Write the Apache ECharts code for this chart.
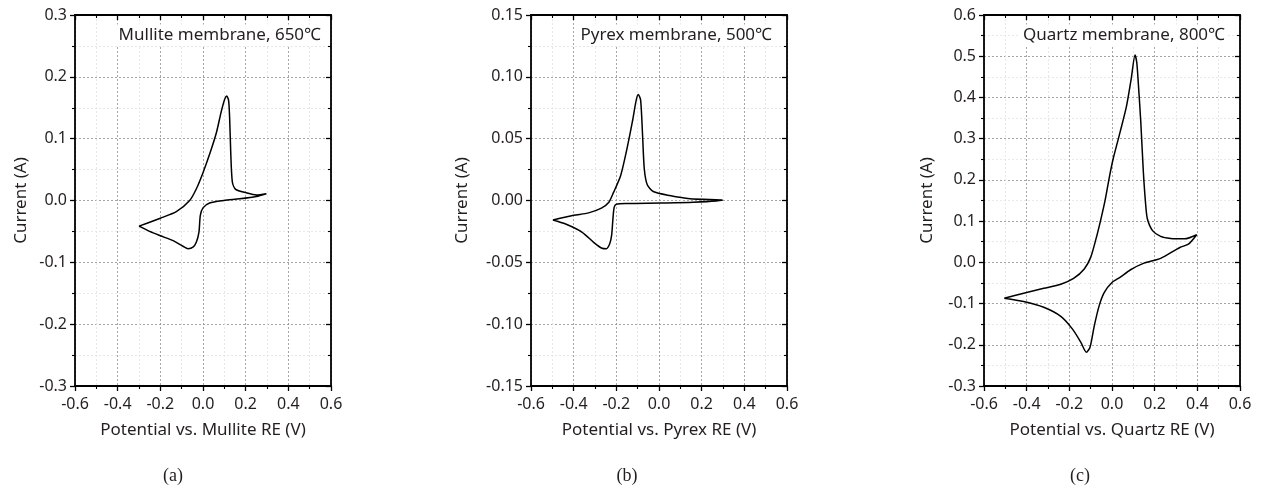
<!DOCTYPE html>
<html>
<head>
<meta charset="utf-8">
<script src="https://cdn.jsdelivr.net/npm/echarts@6/dist/echarts.min.js"></script>
<style>
  html, body { margin: 0; padding: 0; background: #fff; }
  #chart { width: 1264px; height: 488px; }
</style>
</head>
<body>
<div id="chart"></div>
<script>
// (a) Mullite membrane, 650 C — forward scan then reverse scan
const mulliteV = [-0.3, -0.2, -0.125, -0.0625, -0.031, 0.0, 0.034, 0.063, 0.085, 0.102, 0.111, 0.12, 0.125, 0.13, 0.1375, 0.153, 0.203, 0.25, 0.297,
  0.25, 0.172, 0.098, 0.031, 0.0, -0.0125, -0.019, -0.031, -0.047, -0.07, -0.094, -0.14, -0.2, -0.25, -0.3];
const mulliteI = [-0.0415, -0.0286, -0.018, 0.0, 0.019, 0.045, 0.078, 0.11, 0.143, 0.164, 0.169, 0.162, 0.132, 0.078, 0.03, 0.018, 0.0124, 0.009, 0.011,
  0.0065, 0.0027, 0.0, -0.004, -0.012, -0.024, -0.051, -0.067, -0.0755, -0.078, -0.074, -0.065, -0.057, -0.05, -0.0415];

// (b) Pyrex membrane, 500 C
const pyrexV = [-0.497, -0.4, -0.33, -0.27, -0.235, -0.2125, -0.18, -0.15, -0.125, -0.107, -0.097, -0.086, -0.077, -0.069, -0.055, -0.027, 0.05, 0.145, 0.3,
  0.16, 0.008, -0.15, -0.2, -0.21, -0.216, -0.222, -0.231, -0.247, -0.267, -0.305, -0.36, -0.4375, -0.497];
const pyrexI = [-0.0157, -0.012, -0.01, -0.0062, -0.0014, 0.0068, 0.02, 0.042, 0.0635, 0.081, 0.0857, 0.081, 0.0527, 0.0257, 0.0127, 0.0073, 0.004, 0.0014, 0.0003,
  -0.0014, -0.002, -0.0024, -0.003, -0.0054, -0.0149, -0.028, -0.035, -0.039, -0.0386, -0.034, -0.0257, -0.019, -0.0157];

// (c) Quartz membrane, 800 C
const quartzV = [-0.505, -0.414, -0.32, -0.24, -0.18, -0.13, -0.1, -0.075, -0.052, -0.031, -0.013, 0.005, 0.037, 0.068, 0.09, 0.108,
  0.116, 0.122, 0.135, 0.147, 0.158, 0.166, 0.19, 0.228, 0.275, 0.34, 0.397,
  0.36, 0.318, 0.228, 0.15, 0.087, 0.039, 0.0, -0.036, -0.06, -0.083, -0.103, -0.12, -0.146, -0.185, -0.24, -0.32, -0.414, -0.505];
const quartzI = [-0.087, -0.075, -0.063, -0.053, -0.039, -0.016, 0.012, 0.057, 0.105, 0.154, 0.205, 0.25, 0.314, 0.379, 0.445, 0.503,
  0.485, 0.445, 0.34, 0.219, 0.139, 0.105, 0.077, 0.063, 0.058, 0.057, 0.067,
  0.045, 0.036, 0.0097, -0.002, -0.018, -0.036, -0.049, -0.073, -0.105, -0.154, -0.206, -0.218, -0.194, -0.162, -0.131, -0.109, -0.095, -0.087];

const X_TICKS = { min: -0.6, max: 0.6, interval: 0.2 };
const Y_RANGES = [
  { min: -0.3, max: 0.3, interval: 0.1, digits: 1 },
  { min: -0.15, max: 0.15, interval: 0.05, digits: 2 },
  { min: -0.3, max: 0.6, interval: 0.1, digits: 1 },
];
const X_NAMES = ["Potential vs. Mullite RE (V)", "Potential vs. Pyrex RE (V)", "Potential vs. Quartz RE (V)"];
const NOTES = ["Mullite membrane, 650℃", "Pyrex membrane, 500℃", "Quartz membrane, 800℃"];
const PANEL_TAGS = ["(a)", "(b)", "(c)"];

const FONT = "'Noto Sans', 'Open Sans', sans-serif";
const TEXT = "#231f20";
const GRIDS = [
  { left: 75, top: 15, width: 256, height: 371 },
  { left: 531, top: 15, width: 256, height: 371 },
  { left: 984, top: 15, width: 256, height: 371 },
];
const Y_NAME_GAP = [45, 60, 48];
const NOTE_INSET = [7, 12, 12];
const TAG_X = [173, 627, 1080];

const fmt = (d) => (v) => (Math.abs(v) < 1e-9 ? 0 : v).toFixed(d);

const line = { lineStyle: { color: "#000", width: 1.8 } };
const majorGrid = { show: true, lineStyle: { color: "#8f8f8f", type: [2, 2], width: 0.8 } };
const minorGrid = { show: true, lineStyle: { color: "#e2e2e2", type: [2, 2], width: 0.8 } };
const tick = (inside) => ({ inside, length: 5, lineStyle: { color: "#000", width: 1.3 } });
const minor = (inside) => ({ show: true, splitNumber: 2, length: 3, lineStyle: { color: "#000", width: 1.1 } });

const xAxis = [];
const yAxis = [];
GRIDS.forEach((g, i) => {
  const yr = Y_RANGES[i];
  xAxis.push({
    type: "value", gridIndex: i, position: "bottom", ...X_TICKS,
    name: X_NAMES[i], nameLocation: "middle", nameGap: 36,
    nameTextStyle: { color: TEXT, fontFamily: FONT, fontSize: 17 },
    axisLine: { onZero: false, ...line },
    axisTick: tick(false), minorTick: minor(false),
    axisLabel: { color: TEXT, fontFamily: FONT, fontSize: 16, margin: 10, formatter: fmt(1) },
    splitLine: majorGrid, minorSplitLine: minorGrid,
  });
  xAxis.push({
    type: "value", gridIndex: i, position: "top", ...X_TICKS,
    axisLine: { onZero: false, ...line },
    axisTick: tick(true), minorTick: minor(true),
    axisLabel: { show: false }, splitLine: { show: false },
  });
  yAxis.push({
    type: "value", gridIndex: i, position: "left",
    min: yr.min, max: yr.max, interval: yr.interval,
    name: "Current (A)", nameLocation: "middle", nameGap: Y_NAME_GAP[i], nameRotate: 90,
    nameTextStyle: { color: TEXT, fontFamily: FONT, fontSize: 17 },
    axisLine: { onZero: false, ...line },
    axisTick: tick(false), minorTick: minor(false),
    axisLabel: { color: TEXT, fontFamily: FONT, fontSize: 16, margin: 8, formatter: fmt(yr.digits) },
    splitLine: majorGrid, minorSplitLine: minorGrid,
  });
  yAxis.push({
    type: "value", gridIndex: i, position: "right",
    min: yr.min, max: yr.max, interval: yr.interval,
    axisLine: { onZero: false, ...line },
    axisTick: tick(true), minorTick: minor(true),
    axisLabel: { show: false }, splitLine: { show: false },
  });
});

const curves = [[mulliteV, mulliteI], [pyrexV, pyrexI], [quartzV, quartzI]];
const series = curves.map(([v, c], i) => ({
  type: "line",
  xAxisIndex: i * 2,
  yAxisIndex: i * 2,
  data: v.map((x, k) => [x, c[k]]),
  smooth: 0.25,
  symbol: "none",
  lineStyle: { color: "#000", width: 1.5 },
  animation: false,
}));

const graphic = [];
GRIDS.forEach((g, i) => {
  graphic.push({
    type: "text", x: g.left + g.width - NOTE_INSET[i], y: 35, z: 10,
    style: {
      text: NOTES[i], fill: TEXT, font: `17px ${FONT}`, textAlign: "right", textVerticalAlign: "middle",
      backgroundColor: "#fff", padding: [2, 3],
    },
  });
  graphic.push({
    type: "text", x: TAG_X[i], y: 476,
    style: { text: PANEL_TAGS[i], fill: TEXT, font: "18px 'Liberation Serif', 'DejaVu Serif', serif", textAlign: "center", textVerticalAlign: "middle" },
  });
});

const chart = echarts.init(document.getElementById("chart"), null, { renderer: "canvas" });
chart.setOption({
  backgroundColor: "#fff",
  animation: false,
  grid: GRIDS,
  xAxis,
  yAxis,
  series,
  graphic,
});
</script>
</body>
</html>
